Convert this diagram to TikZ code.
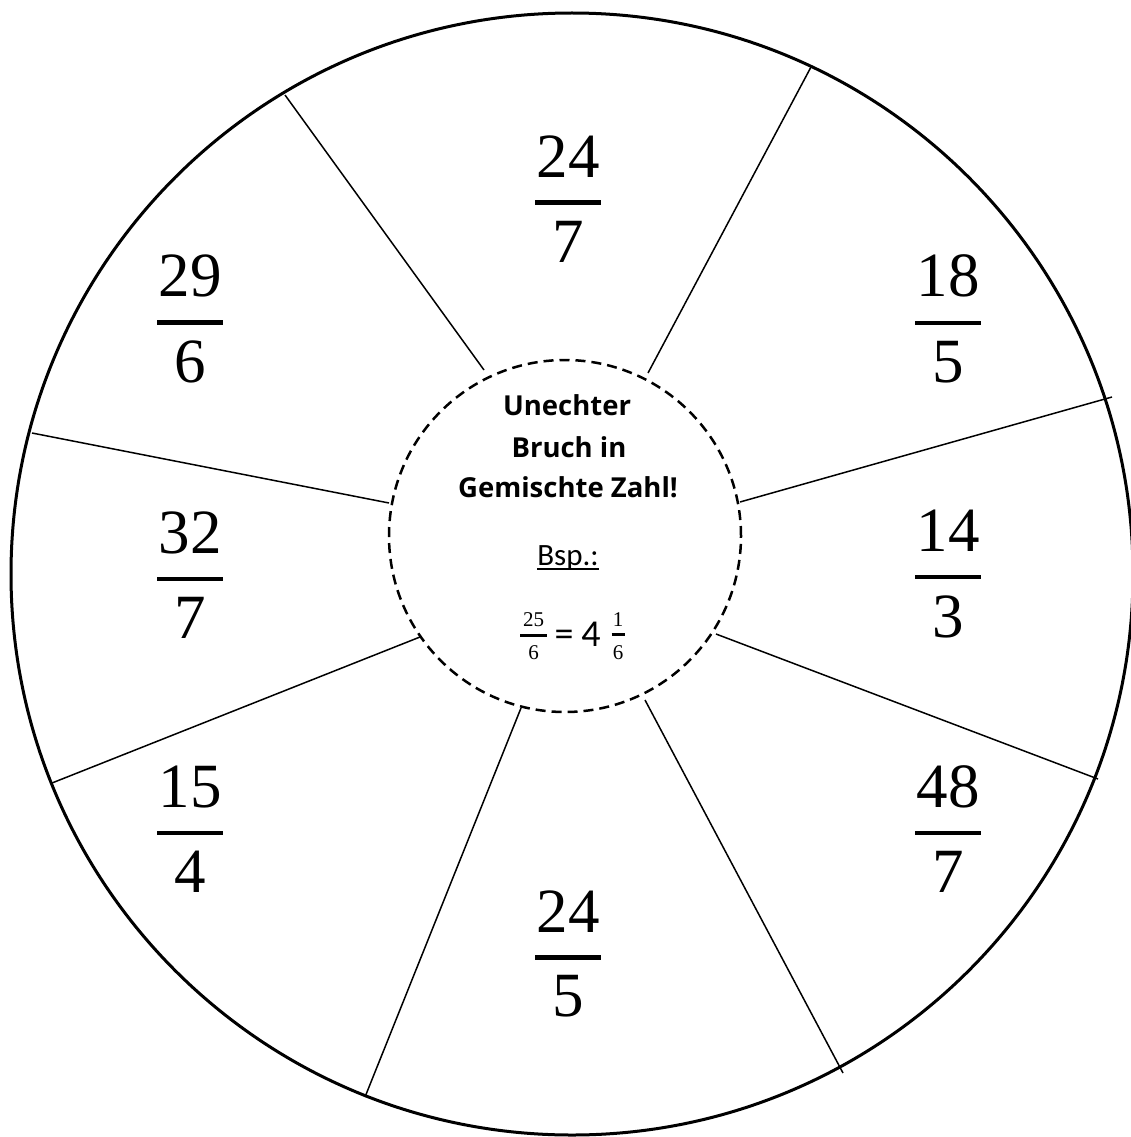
\documentclass[tikz,border=0pt]{standalone}
\usepackage{fontspec}
\setmainfont{Liberation Serif}
\newfontfamily\titlefont{Open Sans}
\newfontfamily\calfont{Carlito}
\newcommand\bigfr[2]{\vbox{\hbox to 66pt{\hss#1\hss}\kern23pt\hrule height4.5pt\kern16pt\hbox to 66pt{\hss#2\hss}}}
\newcommand\smallfr[3]{\vbox{\hbox to #1{\hss#2\hss}\kern7pt\hrule height3pt\kern9pt\hbox to #1{\hss#3\hss}}}
\newcommand\myul[1]{\vtop{\hbox{#1}\kern-2pt\hrule height2pt}}
\tikzset{
  rim/.style={draw, circle, line width=3pt, inner sep=0pt, minimum size=1122pt},
  hub/.style={draw, circle, line width=2.5pt, dash pattern=on 10pt off 6pt, inner sep=0pt, minimum size=352pt},
  spoke/.style={line width=1.5pt},
  fracnode/.style={inner sep=0pt, font=\fontsize{63}{63}\selectfont},
  titlenode/.style={inner sep=0pt, anchor=base, font=\titlefont\bfseries\fontsize{27.5}{30}\selectfont},
  calnode/.style={inner sep=0pt, anchor=base, font=\calfont\fontsize{31}{32}\selectfont},
  eqnode/.style={inner sep=0pt, anchor=base, font=\calfont\fontsize{38}{40}\selectfont},
  smallfracnode/.style={inner sep=0pt, font=\fontsize{21}{21}\selectfont},
}
\begin{document}
\begin{tikzpicture}[x=1pt,y=-1pt]
\useasboundingbox (0,0) rectangle (1130,1137);
\node[rim] (outer) at (572,574) {};
\node[hub] (inner) at (565,536) {};
% spokes
\coordinate (i1) at (484,370); \coordinate (o1) at (285,95);
\coordinate (i2) at (648,373); \coordinate (o2) at (811,67);
\coordinate (i3) at (740,502); \coordinate (o3) at (1112,397);
\coordinate (i4) at (716,634); \coordinate (o4) at (1098,779);
\coordinate (i5) at (645,700); \coordinate (o5) at (843,1073);
\coordinate (i6) at (521,708); \coordinate (o6) at (365,1097);
\coordinate (i7) at (420,637); \coordinate (o7) at (52,783);
\coordinate (i8) at (389,503); \coordinate (o8) at (32,433);
\foreach \k in {1,...,8} { \draw[spoke] (i\k) -- (o\k); }
% fractions
\node[fracnode] (f1) at (568,199) {\bigfr{24}{7}};
\node[fracnode] (f2) at (948,319) {\bigfr{18}{5}};
\node[fracnode] (f3) at (948,574) {\bigfr{14}{3}};
\node[fracnode] (f4) at (948,829) {\bigfr{48}{7}};
\node[fracnode] (f5) at (568,954) {\bigfr{24}{5}};
\node[fracnode] (f6) at (190,829) {\bigfr{15}{4}};
\node[fracnode] (f7) at (190,575) {\bigfr{32}{7}};
\node[fracnode] (f8) at (190,319) {\bigfr{29}{6}};
% centre text
\node[titlenode] (t1) at (567,415) {Unechter};
\node[titlenode] (t2) at (569,457) {Bruch in};
\node[titlenode] (t3) at (568,497) {Gemischte Zahl!};
\node[calnode] (bsp) at (568,565) {\myul{Bsp.:}};
\node[smallfracnode] (e1) at (533.5,636) {\smallfr{27pt}{25}{6}};
\node[eqnode] (e2) at (564,646) {=};
\node[eqnode] (e3) at (591,646) {4};
\node[smallfracnode] (e4) at (618,636) {\smallfr{13pt}{1}{6}};
\end{tikzpicture}
\end{document}
